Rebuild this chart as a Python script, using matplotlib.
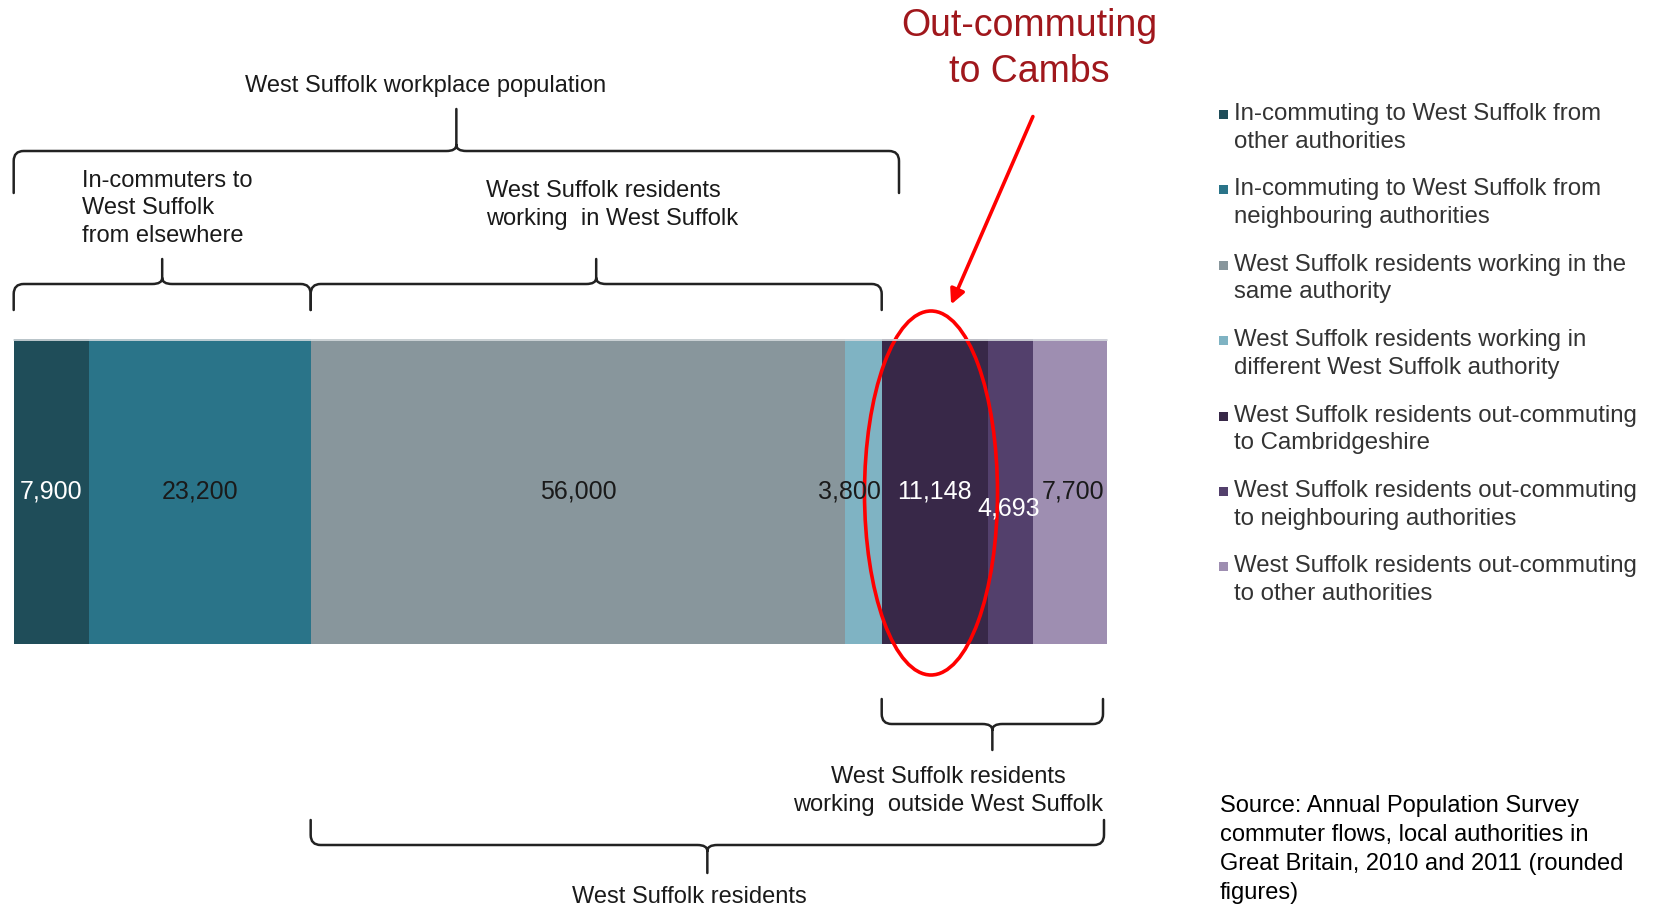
import matplotlib
matplotlib.use('Agg')
import matplotlib.pyplot as plt
import numpy as np
from matplotlib.path import Path
from matplotlib.patches import PathPatch, Ellipse

plt.rcParams['font.family'] = ['Liberation Sans', 'DejaVu Sans']

values = [7900, 23200, 56000, 3800, 11148, 4693, 7700]
value_labels = ['7,900', '23,200', '56,000', '3,800', '11,148', '4,693', '7,700']
colors = ['#1f4d59', '#2a7489', '#88969c', '#7fb3c3', '#382848', '#53406c', '#9e8eb1']
label_colors = ['white', '#1a1a1a', '#1a1a1a', '#1a1a1a', 'white', 'white', '#1a1a1a']
legend_labels = [
    ['In-commuting to West Suffolk from', 'other authorities'],
    ['In-commuting to West Suffolk from', 'neighbouring authorities'],
    ['West Suffolk residents working in the', 'same authority'],
    ['West Suffolk residents working in', 'different West Suffolk authority'],
    ['West Suffolk residents out-commuting', 'to Cambridgeshire'],
    ['West Suffolk residents out-commuting', 'to neighbouring authorities'],
    ['West Suffolk residents out-commuting', 'to other authorities'],
]
source_lines = ['Source: Annual Population Survey', 'commuter flows, local authorities in',
                'Great Britain, 2010 and 2011 (rounded', 'figures)']

W, H = 1657, 910
total = sum(values)
lefts = np.concatenate([[0], np.cumsum(values)[:-1]])
cum = np.cumsum(values)

# x in data units, y in pixel units (top = 0)
bar_x0, bar_x1 = 13.7, 1106.5
s = (bar_x1 - bar_x0) / total


def X(px):
    return (px - bar_x0) / s


fig = plt.figure(figsize=(W / 100, H / 100), dpi=100)
ax = fig.add_axes([0, 0, 1, 1])
ax.set_xlim(X(0), X(W))
ax.set_ylim(H, 0)
ax.axis('off')

bar_top, bar_bot = 339, 644
bar_y = (bar_top + bar_bot) / 2
ax.barh(bar_y, values, left=lefts, height=bar_bot - bar_top, color=colors, linewidth=0)
ax.plot([0, total], [bar_top + 1, bar_top + 1], color='#d8dde0', lw=1.2)

dx = [0, 0, 0, -14, 0, -2, 3]
dy = [0, 0, 0, 0, 0, 17, 0]
for i, v in enumerate(values):
    ax.text(lefts[i] + v / 2 + dx[i] / s, bar_y + dy[i], value_labels[i], color=label_colors[i],
            fontsize=18, ha='center', va='center')


def brace(x0, x1, y_line, y_end, y_tip, r=10):
    xm = (x0 + x1) / 2
    rx = r / s
    sg = np.sign(y_end - y_line)
    st = np.sign(y_tip - y_line)
    verts = [(x0, y_end), (x0, y_line + sg * r), (x0, y_line), (x0 + rx, y_line),
             (xm - rx, y_line), (xm, y_line), (xm, y_line + st * 6), (xm, y_tip),
             (xm, y_line + st * 6), (xm, y_line), (xm + rx, y_line),
             (x1 - rx, y_line), (x1, y_line), (x1, y_line + sg * r), (x1, y_end)]
    codes = [Path.MOVETO, Path.LINETO, Path.CURVE3, Path.CURVE3,
             Path.LINETO, Path.CURVE3, Path.CURVE3, Path.LINETO,
             Path.MOVETO, Path.CURVE3, Path.CURVE3,
             Path.LINETO, Path.CURVE3, Path.CURVE3, Path.LINETO]
    ax.add_patch(PathPatch(Path(verts, codes), fill=False, lw=1.8, color='#222222',
                           capstyle='round', joinstyle='round'))


brace(0, X(899), 151, 193, 109)
brace(0, cum[1], 284, 310, 259)
brace(cum[1], cum[3], 284, 310, 259)
brace(cum[3], X(1103), 724, 699, 750)
brace(cum[1], X(1104), 845, 820, 873)

tc = '#1a1a1a'
fs = 17
ax.text(X(426), 86, 'West Suffolk workplace population', fontsize=fs, ha='center', va='center', color=tc)
for j, line in enumerate(['In-commuters to', 'West Suffolk', 'from elsewhere']):
    ax.text(X(82), 181 + j * 27.5, line, fontsize=fs, ha='left', va='center', color=tc)
for j, line in enumerate(['West Suffolk residents', 'working  in West Suffolk']):
    ax.text(X(486), 191 + j * 27.5, line, fontsize=fs, ha='left', va='center', color=tc)
for j, line in enumerate(['West Suffolk residents', 'working  outside West Suffolk']):
    ax.text(X(948), 777 + j * 27.5, line, fontsize=fs, ha='center', va='center', color=tc)
ax.text(X(689), 897, 'West Suffolk residents', fontsize=fs, ha='center', va='center', color=tc)

# highlight
ax.add_patch(Ellipse((X(931), 493), 133 / s, 364, fill=False, ec='#ff0000', lw=2.6))
ax.annotate('', xy=(X(950), 307), xytext=(X(1034), 114),
            arrowprops=dict(arrowstyle='-|>', color='#ff0000', lw=2.6, mutation_scale=22))
for j, line in enumerate(['Out-commuting', 'to Cambs']):
    ax.text(X(1029), 26 + j * 45.5, line, fontsize=27, ha='center', va='center', color='#a0171c')

# legend
for i, lines in enumerate(legend_labels):
    y0 = 114 + i * 75.4
    ax.bar(X(1223), 9, width=9 / s, bottom=y0 - 4, color=colors[i], linewidth=0)
    for j, line in enumerate(lines):
        ax.text(X(1234), y0 + j * 27.5, line, fontsize=17.3, ha='left', va='center', color='#333333')

for j, line in enumerate(source_lines):
    ax.text(X(1220), 806 + j * 29, line, fontsize=17, ha='left', va='center', color='black')

plt.savefig('out.png', dpi=100)
